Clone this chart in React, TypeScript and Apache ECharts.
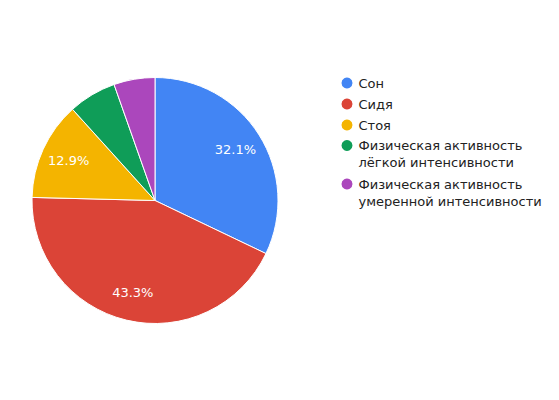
import { useEffect, useRef } from "react";
import * as echarts from "echarts";

const CATEGORIES = [
  "Сон",
  "Сидя",
  "Стоя",
  "Физическая активность лёгкой интенсивности",
  "Физическая активность умеренной интенсивности",
];
const LEGEND_LINES = [
  ["Сон"],
  ["Сидя"],
  ["Стоя"],
  ["Физическая активность", "лёгкой интенсивности"],
  ["Физическая активность", "умеренной интенсивности"],
];
const VALUES = [32.1, 43.3, 12.9, 6.3, 5.4];
const SHOW_LABEL = [true, true, true, false, false];
const COLORS = ["#4285f4", "#db4437", "#f4b400", "#0f9d58", "#ab47bc"];

const FONT = "DejaVu Sans";

export default function App() {
  const ref = useRef<HTMLDivElement>(null);

  useEffect(() => {
    if (!ref.current) return;
    const chart = echarts.init(ref.current, undefined, { renderer: "svg" });

    const legendBase = {
      orient: "vertical" as const,
      left: 339.5,
      padding: 0,
      itemWidth: 13,
      itemHeight: 13,
      itemGap: 4,
      icon: "circle",
      selectedMode: false,
      textStyle: { fontFamily: FONT, fontSize: 13, color: "#222", lineHeight: 17 },
    };

    // two-line legend entries: pad the top so the first line sits beside the icon
    const multiFormatter = (name: string) => {
      const lines = LEGEND_LINES[CATEGORIES.indexOf(name)];
      return `{m|${lines.join("\n")}}`;
    };
    const multiRich = {
      m: { fontFamily: FONT, fontSize: 13, color: "#222", lineHeight: 17, padding: [17, 0, 0, 0] },
    };

    chart.setOption({
      animation: false,
      backgroundColor: "#fff",
      legend: [
        { ...legendBase, top: 74.5, data: CATEGORIES.slice(0, 3) },
        {
          ...legendBase,
          top: 122,
          data: [CATEGORIES[3]],
          formatter: multiFormatter,
          textStyle: { ...legendBase.textStyle, rich: multiRich },
        },
        {
          ...legendBase,
          top: 160.5,
          data: [CATEGORIES[4]],
          formatter: multiFormatter,
          textStyle: { ...legendBase.textStyle, rich: multiRich },
        },
      ],
      series: [
        {
          type: "pie",
          center: [155, 200.5],
          radius: [0, 123],
          startAngle: 90,
          clockwise: true,
          percentPrecision: 1,
          label: { show: false },
          labelLine: { show: false },
          emphasis: { disabled: true },
          itemStyle: { borderColor: "#fff", borderWidth: 1 },
          data: CATEGORIES.map((name, i) => ({
            name,
            value: VALUES[i],
            itemStyle: { color: COLORS[i] },
          })),
        },
        {
          // transparent ring, only used to place the percentage labels further out
          type: "pie",
          center: [155, 200.5],
          radius: [61, 123],
          startAngle: 90,
          clockwise: true,
          silent: true,
          percentPrecision: 1,
          legendHoverLink: false,
          emphasis: { disabled: true },
          itemStyle: { color: "rgba(0,0,0,0)", borderWidth: 0 },
          labelLine: { show: false },
          label: {
            position: "inside",
            formatter: "{d}%",
            color: "#fff",
            fontFamily: FONT,
            fontSize: 13,
          },
          data: CATEGORIES.map((name, i) => ({
            name,
            value: VALUES[i],
            label: { show: SHOW_LABEL[i] },
          })),
        },
      ],
    });

    return () => chart.dispose();
  }, []);

  return (
    <div
      ref={ref}
      style={{ position: "fixed", left: 0, top: 0, width: 559, height: 400, background: "#fff" }}
    />
  );
}
